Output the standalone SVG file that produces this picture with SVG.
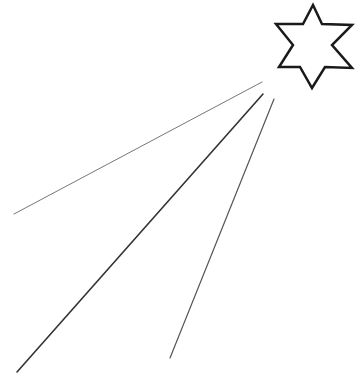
<svg xmlns="http://www.w3.org/2000/svg" width="360" height="378" viewBox="0 0 360 378">
<style>
.ray{stroke-linecap:round;fill:none}
</style>
<rect width="360" height="378" fill="#ffffff"/>
<g id="star">
<polygon points="313,5 322,24 352,25 332,45 352,68 325,67 312,88 300,67 279,67 293,45 276,24 303,24" fill="#ffffff" stroke="#1a1a1a" stroke-width="2.5" stroke-linejoin="miter"/>
</g>
<g id="rays">
<line class="ray" x1="262" y1="82" x2="14" y2="214" stroke="#777" stroke-width="1"/>
<line class="ray" x1="263" y1="94" x2="17" y2="372" stroke="#333" stroke-width="1.6"/>
<line class="ray" x1="274" y1="99" x2="170" y2="358" stroke="#555" stroke-width="1.2"/>
</g>
</svg>
